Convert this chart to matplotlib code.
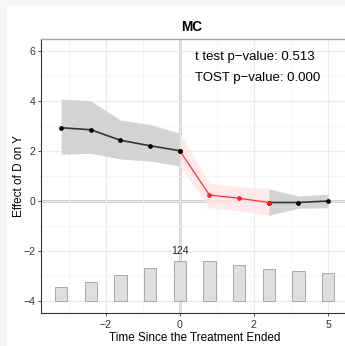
import numpy as np
import matplotlib.pyplot as plt
from matplotlib.patches import Rectangle

# period positions on the (odd) fect axis
period_x = [-3.2, -2.4, -1.6, -0.8, 0.0, 0.8, 1.6, 2.4, 3.2, 4.0]
effect = [2.92, 2.84, 2.42, 2.20, 2.00, 0.23, 0.10, -0.07, -0.07, -0.01]
ci_upper = [4.07, 4.00, 3.23, 3.05, 2.70, 0.70, 0.57, 0.47, 0.19, 0.26]
ci_lower = [1.86, 1.90, 1.67, 1.59, 1.39, -0.28, -0.40, -0.58, -0.30, -0.28]
counts = [43, 58, 80, 101, 124, 124, 111, 99, 92, 87]
tick_pos = [-2, 0, 2, 4]
tick_labels = ['\u22122', '0', '2', '5']
ytick_pos = [-4, -2, 0, 2, 4, 6]

plt.rcParams['font.family'] = ['Liberation Sans', 'DejaVu Sans']

fig = plt.figure(figsize=(3.45, 3.46), dpi=100, facecolor='#f5f5f5')
fig.patches.append(Rectangle((7 / 345, 0), 1, 1 - 5 / 346, transform=fig.transFigure,
                             facecolor='white', edgecolor='none', zorder=-10))
ax = fig.add_axes([40.7 / 345, 1 - 313 / 346, 1 - 40.7 / 345 + 0.01, (313 - 39) / 346])
ax.set_zorder(1)
ax.set_facecolor('white')

x = np.array(period_x)
y = np.array(effect)
up = np.array(ci_upper)
lo = np.array(ci_lower)

# grid
ax.set_xlim(-3.75, 4.55)
ax.set_ylim(-4.49, 6.47)
ax.set_xticks(tick_pos)
ax.set_xticklabels(tick_labels)
ax.set_yticks(ytick_pos)
ax.set_yticklabels([str(v).replace('-', '\u2212') for v in ytick_pos])
ax.set_xticks([-3, -1, 1, 3], minor=True)
ax.set_yticks([-3, -1, 1, 3, 5], minor=True)
ax.grid(which='major', color='#ebebeb', lw=0.9, zorder=0)
ax.grid(which='minor', color='#f4f4f4', lw=0.6, zorder=0)
ax.tick_params(which='minor', length=0)
ax.tick_params(which='major', length=2.5, width=0.6, color='#333333',
               labelsize=7.6, labelcolor='#333333', pad=1.5)
ax.tick_params(axis='x', pad=2.5)

ax.axhline(0, color='#c8c8c8', lw=2, zorder=1)
ax.axvline(0, color='#c8c8c8', lw=2, zorder=1)

# counts as bars at the bottom
base = -4.0
scale = 1.59 / max(counts)
heights = np.array(counts) * scale
ax.bar(x, heights, width=0.33, bottom=base, color='#dedede', edgecolor='#a8a8a8',
       lw=0.7, zorder=2)
imax = int(np.argmax(counts))
ax.text(x[imax], base + heights[imax] + 0.38, str(counts[imax]), ha='center',
        va='center', fontsize=7.5, color='#222222')

# confidence bands
pre = x <= 0
red = (x >= 0) & (x <= 2.4)
post = x >= 2.4
ax.fill_between(x[pre], lo[pre], up[pre], color='#d3d3d3', lw=0, zorder=2)
ax.fill_between(x[red], lo[red], up[red], color='#ffe4e8', alpha=0.8, lw=0, zorder=2)
ax.fill_between(x[post], lo[post], up[post], color='#d3d3d3', lw=0, zorder=2)

# estimates
ax.plot(x[pre], y[pre], color='#333333', lw=1.2, marker='o', ms=2.4, mfc='black',
        mec='black', zorder=4)
ax.plot(x[post], y[post], color='#333333', lw=1.2, marker='o', ms=2.4, mfc='black',
        mec='black', zorder=4)
ax.plot(x[red], y[red], color='#ff3333', lw=0.9, marker='o', ms=2.4, mfc='#ff2020',
        mec='#ff2020', zorder=5)
ax.plot([0], [y[4]], 'o', color='black', ms=2.4, zorder=6)

ax.text(0.4, 5.75, 't test p\u2212value: 0.513', fontsize=9.5, va='center', color='black')
ax.text(0.4, 4.92, 'TOST p\u2212value: 0.000', fontsize=9.5, va='center', color='black')

for s in ['left', 'bottom']:
    ax.spines[s].set_color('#333333')
    ax.spines[s].set_linewidth(0.8)
ax.spines['top'].set_color('#a6a6a6')
ax.spines['top'].set_linewidth(1.0)
ax.spines['right'].set_visible(False)

ax.set_title('MC', fontsize=9.8, fontweight='bold', pad=6, x=0.5 - 0.01)
ax.set_xlabel('Time Since the Treatment Ended', fontsize=8.5, labelpad=1.5)
ax.set_ylabel('Effect of D on Y', fontsize=8.5, labelpad=-1)

fig.savefig('out.png', dpi=100, facecolor=fig.get_facecolor())
